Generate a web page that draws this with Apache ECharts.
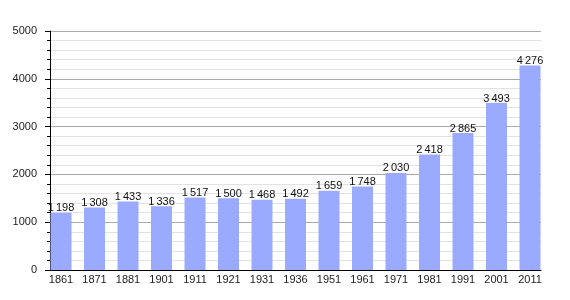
<!DOCTYPE html>
<html><head><meta charset="utf-8">
<script src="https://cdn.jsdelivr.net/npm/echarts@6/dist/echarts.min.js"></script>
<style>html,body{margin:0;padding:0;background:#fff}#c{width:570px;height:300px}</style>
</head><body><div id="c"></div>
<script>
const years = ['1861','1871','1881','1901','1911','1921','1931','1936','1951','1961','1971','1981','1991','2001','2011'];
const population = [1198,1308,1433,1336,1517,1500,1468,1492,1659,1748,2030,2418,2865,3493,4276];
const yMin = 0, yMax = 5000, yStep = 1000;

const fmt = v => { const s = String(v); return s.length > 3 ? s.slice(0, s.length-3) + '\u2009' + s.slice(-3) : s; };
const font = 'Liberation Sans, Arial, sans-serif';
const chart = echarts.init(document.getElementById('c'));
chart.setOption({
  animation: false,
  grid: [
    {left: 50, right: 29, top: 31, bottom: 30},
    {left: 61, right: 40, top: 31, bottom: 30}
  ],
  xAxis: [
    {gridIndex: 0, type: 'category', data: years, boundaryGap: true,
     axisLine: {show: true, lineStyle: {color: '#000', width: 1}},
     axisTick: {show: false}, axisLabel: {show: false}, splitLine: {show: false}},
    {gridIndex: 1, type: 'category', data: years, boundaryGap: false,
     axisLine: {show: false}, axisTick: {show: false},
     axisLabel: {show: true, color: '#222', fontFamily: font, fontSize: 11, margin: 4, interval: 0}}
  ],
  yAxis: [
    {gridIndex: 0, type: 'value', min: yMin, max: yMax, interval: yStep,
     axisLine: {show: true, lineStyle: {color: '#000'}},
     axisTick: {show: true, length: 5, lineStyle: {color: '#000'}},
     minorTick: {show: true, splitNumber: 5, length: 3, lineStyle: {color: '#000'}},
     axisLabel: {color: '#222', fontFamily: font, fontSize: 11, margin: 13, formatter: v => String(v)},
     splitLine: {show: true, lineStyle: {color: '#aaa', width: 1}},
     minorSplitLine: {show: true, lineStyle: {color: '#e2e2e2', width: 1}}},
    {gridIndex: 1, type: 'value', min: yMin, max: yMax, interval: yStep, show: false,
     splitLine: {show: false}}
  ],
  series: [{
    type: 'bar', xAxisIndex: 1, yAxisIndex: 1, data: population, barWidth: 21,
    itemStyle: {color: '#99aaff'},
    label: {show: true, position: 'top', distance: -1, color: '#111', fontFamily: font, fontSize: 11,
            formatter: p => fmt(p.value)}
  }]
});
</script></body></html>
